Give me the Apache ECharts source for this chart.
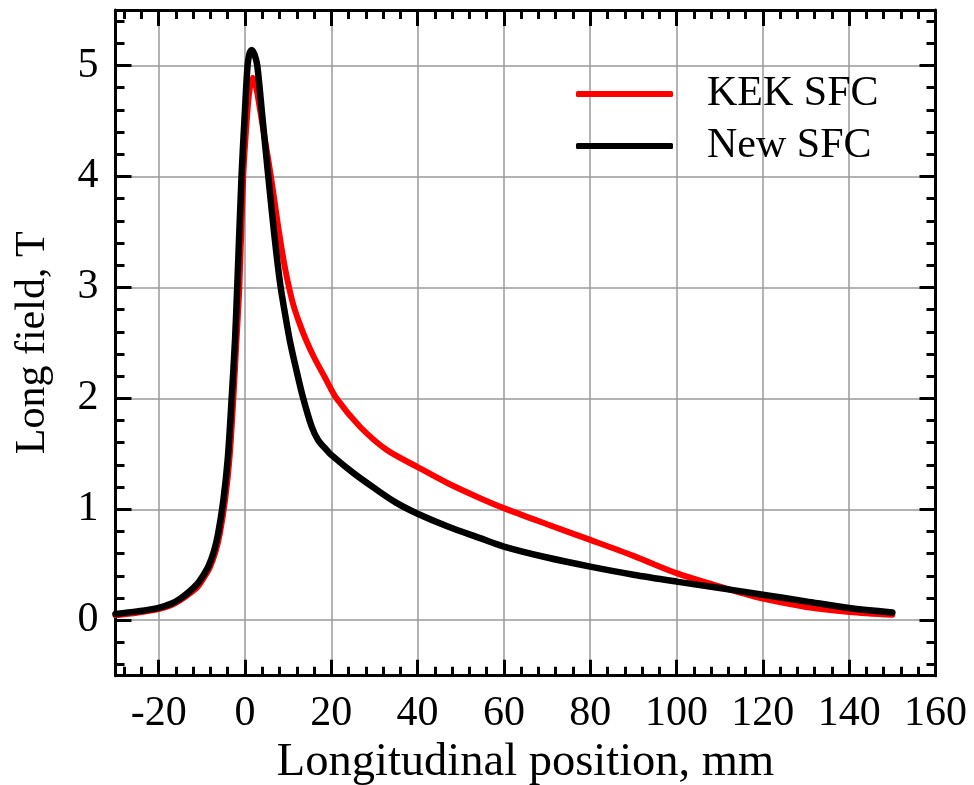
<!DOCTYPE html>
<html><head><meta charset="utf-8">
<script src="https://cdn.jsdelivr.net/npm/echarts@6/dist/echarts.min.js"></script>
<style>html,body{margin:0;padding:0;background:#fff}#c{width:974px;height:785px}</style>
</head><body><div id="c"></div>
<script>
// ---- data ----
const seriesNames = ['KEK SFC', 'New SFC'];
const xTickLabels = [-20, 0, 20, 40, 60, 80, 100, 120, 140, 160];
const yTickLabels = [0, 1, 2, 3, 4, 5];
const kekX = [-30, -25, -20, -17, -15, -13, -11, -9.5, -8.2, -6.8, -5.8, -4.6, -3.6, -2.7, -2.0, -1.3, -0.4, 0.4, 1.0, 1.8, 2.6, 3.5, 4.5, 5.4, 6.2, 7.2, 8.2, 9.2, 10.2, 11.3, 12.6, 14.1, 16.0, 18.5, 21.2, 26.6, 32.8, 39.8, 47, 54.5, 60, 70, 80, 90, 100, 108.5, 114.7, 120, 130, 140, 150];
const kekY = [0.045, 0.068, 0.1, 0.138, 0.18, 0.235, 0.3, 0.385, 0.47, 0.62, 0.785, 1.085, 1.45, 1.99, 2.5, 3.0, 4.0, 4.5, 4.76, 4.89, 4.8, 4.6, 4.36, 4.15, 3.95, 3.68, 3.42, 3.19, 3.0, 2.83, 2.68, 2.53, 2.37, 2.19, 2.0, 1.746, 1.536, 1.385, 1.235, 1.10, 1.01, 0.865, 0.724, 0.58, 0.424, 0.32, 0.25, 0.195, 0.12, 0.075, 0.05];
const newX = [-30, -25, -20, -17, -15, -13, -11, -9.5, -8.5, -7.2, -6.2, -5.0, -4.0, -3.1, -2.3, -1.8, -0.8, 0.0, 0.6, 1.0, 1.55, 2.2, 2.85, 4.0, 5.4, 6.4, 7.3, 8.2, 9.2, 10.5, 12.0, 13.5, 15.45, 17.0, 18.9, 20, 25, 30, 35, 40, 47, 54.5, 60, 70, 80, 90, 100, 110, 114.7, 120, 130, 140, 150];
const newY = [0.057, 0.08, 0.112, 0.15, 0.195, 0.255, 0.33, 0.415, 0.483, 0.62, 0.785, 1.085, 1.45, 1.99, 2.53, 3.0, 4.0, 4.6, 5.0, 5.1, 5.14, 5.1, 5.0, 4.55, 4.0, 3.62, 3.3, 3.02, 2.78, 2.5, 2.24, 2.0, 1.746, 1.62, 1.536, 1.49, 1.33, 1.19, 1.06, 0.96, 0.845, 0.74, 0.664, 0.565, 0.483, 0.41, 0.348, 0.29, 0.262, 0.23, 0.17, 0.11, 0.07];

// ---- axis ranges ----
const xMin = -30, xMax = 160, yMin = -0.5, yMax = 5.5;
function minorBetween(majors, lo, hi, n) {
  const step = (majors[1] - majors[0]) / n;
  const out = [];
  const start = majors[0] - step * Math.ceil((majors[0] - lo) / step);
  for (let v = start; v <= hi + 1e-9; v += step) {
    const r = Math.round(v * 1000) / 1000;
    if (r > lo && r < hi && !majors.some(m => Math.abs(m - r) < 1e-6)) out.push(r);
  }
  return out;
}
const xMinor = minorBetween(xTickLabels, xMin, xMax, 5);
const yMinor = minorBetween(yTickLabels, yMin, yMax, 5);

const FONT = '"Liberation Serif", "Times New Roman", serif';
const BLACK = '#000';

function axisBase(type, pos, min, max) {
  return {
    type: 'value', position: pos, min: min, max: max,
    splitNumber: type === 'x' ? 10 : 6,
    axisLine: { show: false, onZero: false, lineStyle: { color: BLACK, width: 3 } },
    axisTick: { show: false },
    axisLabel: { show: false },
    splitLine: { show: false },
    minorTick: { show: false }
  };
}
function majorAxis(type, pos, min, max, ticks, withLabels) {
  const a = axisBase(type, pos, min, max);
  a.axisLine.show = true;
  a.axisTick = { show: true, inside: true, length: 16, customValues: ticks, lineStyle: { color: BLACK, width: 3 } };
  if (withLabels) {
    a.axisLabel = { show: true, customValues: ticks, margin: 17,
      fontSize: 42, fontFamily: FONT, color: BLACK };
    a.splitLine = { show: true, lineStyle: { color: '#9a9a9a', width: 1.5 } };
  }
  return a;
}
function minorAxis(type, pos, min, max, ticks) {
  const a = axisBase(type, pos, min, max);
  a.axisTick = { show: true, inside: true, length: 9, customValues: ticks, lineStyle: { color: BLACK, width: 3 } };
  return a;
}

const xMain = majorAxis('x', 'bottom', xMin, xMax, xTickLabels, true);
xMain.name = 'Longitudinal position, mm';
xMain.nameLocation = 'middle';
xMain.nameGap = 59;
xMain.nameTextStyle = { fontSize: 46.5, fontFamily: FONT, color: BLACK };
const yMain = majorAxis('y', 'left', yMin, yMax, yTickLabels, true);
yMain.name = 'Long field, T';
yMain.nameLocation = 'middle';
yMain.nameGap = 62;
yMain.nameRotate = 90;
yMain.nameTextStyle = { fontSize: 42, fontFamily: FONT, color: BLACK };

const option = {
  animation: false,
  backgroundColor: '#fff',
  grid: { left: 115.5, right: 38.5, top: 10, bottom: 109.3, containLabel: false, outerBoundsMode: 'none' },
  xAxis: [
    xMain,
    majorAxis('x', 'top', xMin, xMax, xTickLabels, false),
    minorAxis('x', 'bottom', xMin, xMax, xMinor), // flips to top
    minorAxis('x', 'top', xMin, xMax, xMinor)     // flips to bottom
  ],
  yAxis: [
    yMain,
    majorAxis('y', 'right', yMin, yMax, yTickLabels, false),
    minorAxis('y', 'left', yMin, yMax, yMinor),   // flips to right
    minorAxis('y', 'right', yMin, yMax, yMinor)   // flips to left
  ],
  legend: {
    data: seriesNames,
    orient: 'vertical',
    left: 571, top: 68,
    itemWidth: 97, itemHeight: 6, itemGap: 10,
    icon: 'roundRect',
    textStyle: { fontSize: 42, fontFamily: FONT, color: BLACK, lineHeight: 42, padding: [0, 0, 0, 29] }
  },
  series: [
    {
      type: 'line', name: seriesNames[0], xAxisIndex: 0, yAxisIndex: 0,
      data: kekX.map((x, i) => [x, kekY[i]]),
      symbol: 'none', showSymbol: false, smooth: 0.3,
      lineStyle: { color: '#ff0000', width: 6, cap: 'round', join: 'round' },
      itemStyle: { color: '#ff0000' }, z: 3
    },
    {
      type: 'line', name: seriesNames[1], xAxisIndex: 0, yAxisIndex: 0,
      data: newX.map((x, i) => [x, newY[i]]),
      symbol: 'none', showSymbol: false, smooth: 0.3,
      lineStyle: { color: '#000000', width: 6.5, cap: 'round', join: 'round' },
      itemStyle: { color: '#000000' }, z: 4
    }
  ]
};
const chart = echarts.init(document.getElementById('c'), null, { renderer: 'canvas', width: 974, height: 785 });
chart.setOption(option);
</script>
</body></html>
